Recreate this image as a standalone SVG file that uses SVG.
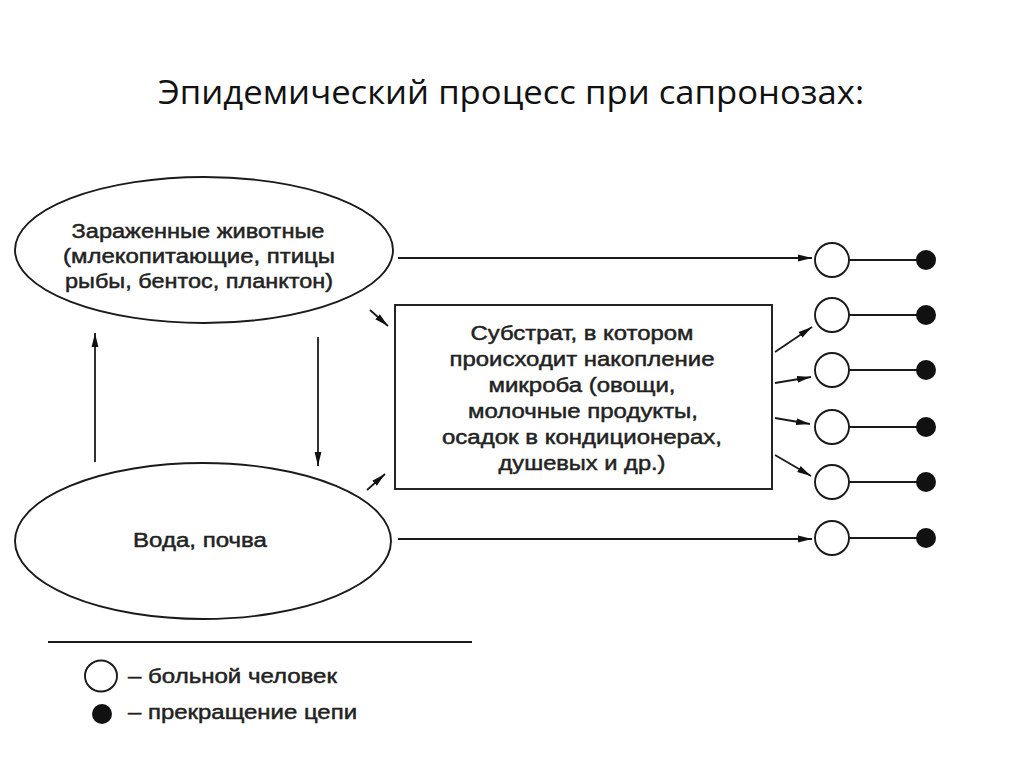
<svg xmlns="http://www.w3.org/2000/svg" width="1024" height="767" viewBox="0 0 1024 767">
<defs>
<marker id="ah" viewBox="0 0 14 8" refX="14" refY="4" markerWidth="14" markerHeight="8" markerUnits="userSpaceOnUse" orient="auto">
<path d="M0,0.6 L14,4 L0,7.4 Z" fill="#111"/>
</marker>
<style>
.ln{stroke:#1a1a1a;stroke-width:1.8;fill:none}
.ar{stroke:#1a1a1a;stroke-width:1.8;fill:none;marker-end:url(#ah)}
.shape{stroke:#1a1a1a;stroke-width:1.9;fill:#fff}
.t{font-family:"Liberation Sans",Arial,sans-serif;font-size:19.5px;fill:#222;stroke:#222;stroke-width:0.45;text-anchor:middle}
.tl{font-family:"Liberation Sans",Arial,sans-serif;font-size:19.5px;fill:#222;stroke:#222;stroke-width:0.45}
.title{font-family:"Open Sans","Liberation Sans",sans-serif;font-size:32px;fill:#111}
.open{stroke:#1a1a1a;stroke-width:1.9;fill:#fff}
.dot{fill:#111}
</style>
</defs>
<rect width="1024" height="767" fill="#fff"/>
<text class="title" x="158" y="104" textLength="706" lengthAdjust="spacingAndGlyphs">Эпидемический процесс при сапронозах:</text>

<g id="animals">
<ellipse class="shape" cx="204" cy="250" rx="189" ry="73"/>
<text class="t" x="198" y="238" textLength="253" lengthAdjust="spacingAndGlyphs">Зараженные животные</text>
<text class="t" x="199" y="263" textLength="272" lengthAdjust="spacingAndGlyphs">(млекопитающие, птицы</text>
<text class="t" x="199" y="288" textLength="268" lengthAdjust="spacingAndGlyphs">рыбы, бентос, планктон)</text>
</g>

<g id="water">
<ellipse class="shape" cx="203" cy="541" rx="188" ry="78"/>
<text class="t" x="200" y="547" textLength="134" lengthAdjust="spacingAndGlyphs">Вода, почва</text>
</g>

<g id="substrate">
<rect class="shape" x="395" y="305" width="377" height="184"/>
<text class="t" x="582" y="340" textLength="223" lengthAdjust="spacingAndGlyphs">Субстрат, в котором</text>
<text class="t" x="582" y="366" textLength="265" lengthAdjust="spacingAndGlyphs">происходит накопление</text>
<text class="t" x="582" y="392" textLength="187" lengthAdjust="spacingAndGlyphs">микроба (овощи,</text>
<text class="t" x="583" y="418" textLength="230" lengthAdjust="spacingAndGlyphs">молочные продукты,</text>
<text class="t" x="582" y="444" textLength="280" lengthAdjust="spacingAndGlyphs">осадок в кондиционерах,</text>
<text class="t" x="582" y="470" textLength="167" lengthAdjust="spacingAndGlyphs">душевых и др.)</text>
</g>

<g id="connectors">
<line class="ar" x1="398" y1="258" x2="812" y2="258"/>
<line class="ar" x1="398" y1="539" x2="812" y2="539"/>
<line class="ar" x1="370" y1="310" x2="388" y2="326"/>
<line class="ar" x1="367" y1="490" x2="385" y2="474"/>
<line class="ar" x1="95" y1="462" x2="95" y2="333"/>
<line class="ar" x1="318" y1="337" x2="318" y2="466"/>
<line class="ar" x1="775" y1="352" x2="812" y2="327"/>
<line class="ar" x1="775" y1="383" x2="811" y2="377"/>
<line class="ar" x1="775" y1="418" x2="810" y2="424"/>
<line class="ar" x1="775" y1="455" x2="811" y2="476"/>
<line class="ln" x1="849" y1="260" x2="925" y2="260"/>
<line class="ln" x1="849" y1="315" x2="925" y2="315"/>
<line class="ln" x1="849" y1="370" x2="925" y2="370"/>
<line class="ln" x1="849" y1="427" x2="925" y2="427"/>
<line class="ln" x1="849" y1="482" x2="925" y2="482"/>
<line class="ln" x1="849" y1="538" x2="925" y2="538"/>
</g>

<g id="patients">
<circle class="open" cx="832" cy="260" r="17"/>
<circle class="open" cx="832" cy="315" r="17"/>
<circle class="open" cx="832" cy="370" r="17"/>
<circle class="open" cx="832" cy="427" r="17"/>
<circle class="open" cx="832" cy="482" r="17"/>
<circle class="open" cx="832" cy="538" r="17"/>
</g>

<g id="ends">
<circle class="dot" cx="926" cy="260" r="10"/>
<circle class="dot" cx="926" cy="315" r="10"/>
<circle class="dot" cx="926" cy="370" r="10"/>
<circle class="dot" cx="926" cy="427" r="10"/>
<circle class="dot" cx="926" cy="482" r="10"/>
<circle class="dot" cx="926" cy="538" r="10"/>
</g>

<g id="legend">
<line class="ln" x1="48" y1="642" x2="472" y2="642" style="stroke-width:2"/>
<ellipse class="open" cx="101" cy="676" rx="16" ry="15.5"/>
<text class="tl" x="128" y="683" textLength="209" lengthAdjust="spacingAndGlyphs">– больной человек</text>
<circle class="dot" cx="102" cy="714" r="10"/>
<text class="tl" x="128" y="719" textLength="229" lengthAdjust="spacingAndGlyphs">– прекращение цепи</text>
</g>
</svg>
